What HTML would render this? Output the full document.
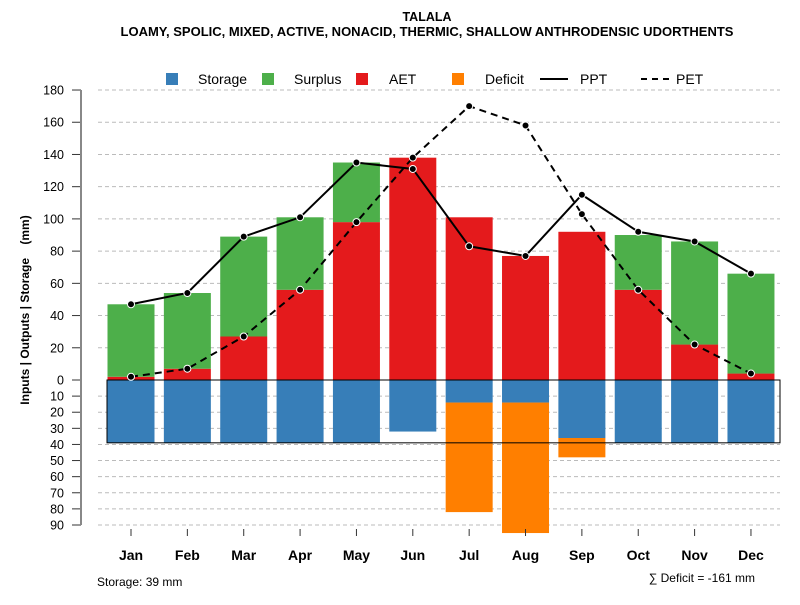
<!DOCTYPE html>
<html><head><meta charset="utf-8"><style>
body{margin:0;background:#fff;font-family:"Liberation Sans",Arial,sans-serif}
svg text{font-family:"Liberation Sans",Arial,sans-serif}
</style></head><body>
<svg id="c" width="800" height="600">
<text x="427" y="21" text-anchor="middle" font-size="12.5" font-weight="bold">TALALA</text>
<text x="427" y="36" text-anchor="middle" font-size="13" font-weight="bold">LOAMY, SPOLIC, MIXED, ACTIVE, NONACID, THERMIC, SHALLOW ANTHRODENSIC UDORTHENTS</text>
<text transform="translate(29,310) rotate(-90)" text-anchor="middle" font-size="12" font-weight="bold" style="white-space:pre">Inputs | Outputs | Storage    (mm)</text>
<text x="97" y="586" font-size="12">Storage: 39 mm</text>
<text x="755" y="582" text-anchor="end" font-size="12">∑ Deficit = -161 mm</text>
<g id="grid"></g><g id="bars"></g><g id="lines"></g><g id="axes"></g><g id="legend"></g>
</svg>
<script>
const months=["Jan","Feb","Mar","Apr","May","Jun","Jul","Aug","Sep","Oct","Nov","Dec"];
const aet=[2,7,27,56,98,138,101,77,92,56,22,4];
const surplus=[45,47,62,45,37,0,0,0,0,34,64,62];
const storage=[39,39,39,39,39,32,14,14,36,39,39,39];
const deficit=[0,0,0,0,0,0,68,81,12,0,0,0];
const ppt=[47,54,89,101,135,131,83,77,115,92,86,66];
const pet=[2,7,27,56,98,138,170,158,103,56,22,4];
const posTicks=[0,20,40,60,80,100,120,140,160,180];
const negTicks=[10,20,30,40,50,60,70,80,90];
const storageCap=39;
const NS="http://www.w3.org/2000/svg";
const y0=380,k=1.611;
const yUp=v=>y0-v*k, yDn=v=>y0+v*k;
const xC=i=>131+i*56.36, bw=47;
function mk(tag,parent,attrs){const e=document.createElementNS(NS,tag);for(const a in attrs)e.setAttribute(a,attrs[a]);document.getElementById(parent).appendChild(e);return e;}
function ytick(y,t){
  const tk=mk('line','axes',{x1:72,x2:81,y1:y,y2:y,stroke:'#333'});
  
  
  const tx=mk('text','axes',{x:64,y:y+4.5,'text-anchor':'end','font-size':12.5});tx.textContent=t;
  
  
}
posTicks.forEach(t=>{
  if(t>0){const g=mk('line','grid',{x1:98,x2:780,y1:yUp(t),y2:yUp(t),stroke:'#bbb','stroke-dasharray':'4,3'});
  
  }
  ytick(yUp(t),t);
});
negTicks.forEach(t=>{
  const g=mk('line','grid',{x1:98,x2:780,y1:yDn(t),y2:yDn(t),stroke:'#bbb','stroke-dasharray':'4,3'});
  
  
  ytick(yDn(t),t);
});
const ax=mk('line','axes',{x1:81,x2:81,y1:yUp(180),y2:yDn(90),stroke:'#888','stroke-width':2});


months.forEach((m,i)=>{
  const x=xC(i);
  const tk=mk('line','axes',{x1:x,x2:x,y1:529,y2:536,stroke:'#333'});
  
  
  const tx=mk('text','axes',{x:x,y:560,'text-anchor':'middle','font-size':14,'font-weight':'bold'});tx.textContent=m;
  
  
  const l=x-bw/2;
  const r1=mk('rect','bars',{x:l,width:bw,y:yUp(aet[i]),height:aet[i]*k,fill:'#E41A1C'});
  
  
  if(surplus[i]>0){const r2=mk('rect','bars',{x:l,width:bw,y:yUp(aet[i]+surplus[i]),height:surplus[i]*k,fill:'#4DAF4A'});
  
  }
  const r3=mk('rect','bars',{x:l,width:bw,y:y0,height:storage[i]*k,fill:'#377EB8'});
  
  
  if(deficit[i]>0){const r4=mk('rect','bars',{x:l,width:bw,y:yDn(storage[i]),height:deficit[i]*k,fill:'#FF7F00'});
  
  }
});
const box=mk('rect','bars',{x:107,width:673,y:y0,height:storageCap*k,fill:'none',stroke:'#000'});


function series(vals,dash,name){
  const p=mk('polyline','lines',{points:vals.map((v,i)=>xC(i)+','+yUp(v)).join(' '),fill:'none',stroke:'#000','stroke-width':2,'stroke-dasharray':dash});
  
  
  vals.forEach((v,i)=>{const c=mk('circle','lines',{cx:xC(i),cy:yUp(v),r:3.5,fill:'#000',stroke:'#fff','stroke-width':1});
  
  });
}
series(pet,'7,5','pet');
series(ppt,'none','ppt');
const leg=[["Storage","#377EB8",172,198],["Surplus","#4DAF4A",268,294],["AET","#E41A1C",362,389],["Deficit","#FF7F00",458,485]];
leg.forEach(l=>{
  const s=mk('rect','legend',{x:l[2]-6,y:73,width:12,height:12,fill:l[1]});
  
  
  const t=mk('text','legend',{x:l[3],y:84,'font-size':14});t.textContent=l[0];
  
  
});
[["PPT","none",540,580],["PET","6,5",641,676]].forEach(l=>{
  const s=mk('line','legend',{x1:l[2],x2:l[2]+28,y1:79,y2:79,stroke:'#000','stroke-width':2,'stroke-dasharray':l[1]});
  
  
  const t=mk('text','legend',{x:l[3],y:84,'font-size':14});t.textContent=l[0];
  
  
});
</script>
</body></html>
